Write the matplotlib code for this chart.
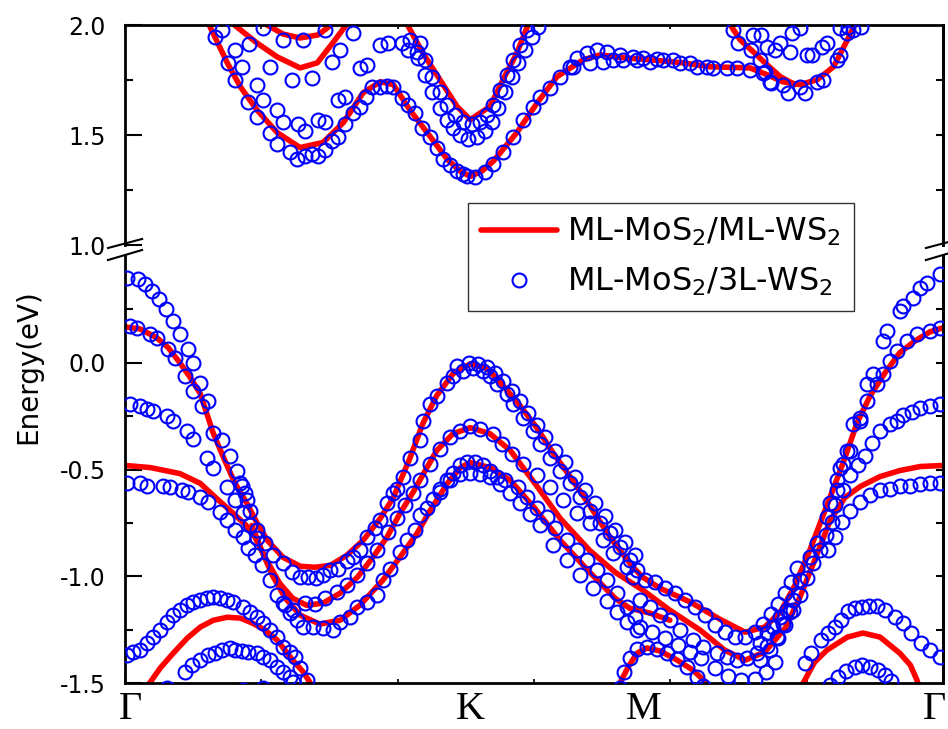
import matplotlib
matplotlib.use('Agg')
import matplotlib.pyplot as plt
from matplotlib.lines import Line2D
from matplotlib.transforms import blended_transform_factory
import numpy as np

plt.rcParams['font.family'] = 'DejaVu Sans'
plt.rcParams['axes.unicode_minus'] = False
plt.rcParams['mathtext.default'] = 'regular'

# k-path, fraction of total length: G - K - M - G
kpts = [0.0, 0.4226, 0.6340, 1.0]
kpt_labels = ['Γ', 'K', 'M', 'Γ']
labels = ['ML-MoS$_2$/ML-WS$_2$', 'ML-MoS$_2$/3L-WS$_2$']

# ---- ML-MoS2/ML-WS2 (lines), (k, E) ----
ml_vb1 = [(0.000, 0.168), (0.018, 0.159), (0.039, 0.117), (0.053, 0.070), (0.067, 0.000),
          (0.079, -0.065), (0.092, -0.145), (0.108, -0.332), (0.122, -0.458), (0.134, -0.561),
          (0.149, -0.659), (0.163, -0.762), (0.174, -0.832), (0.193, -0.911), (0.214, -0.953),
          (0.232, -0.958), (0.251, -0.949), (0.271, -0.902), (0.291, -0.832), (0.312, -0.729),
          (0.328, -0.631), (0.348, -0.449), (0.364, -0.285), (0.381, -0.154), (0.401, -0.051),
          (0.422, -0.005), (0.443, -0.028), (0.462, -0.107), (0.483, -0.201), (0.504, -0.308),
          (0.523, -0.421), (0.544, -0.533), (0.568, -0.668), (0.593, -0.818), (0.621, -0.958),
          (0.633, -1.005), (0.654, -1.056), (0.691, -1.121), (0.727, -1.201), (0.758, -1.262),
          (0.782, -1.238), (0.801, -1.168), (0.819, -1.042), (0.837, -0.879), (0.858, -0.668),
          (0.878, -0.467), (0.895, -0.280), (0.911, -0.154), (0.929, -0.047), (0.947, 0.047),
          (0.966, 0.103), (0.984, 0.145), (1.000, 0.164)]
ml_vb2 = [(0.000, -0.481), (0.031, -0.491), (0.067, -0.519), (0.092, -0.565), (0.112, -0.636),
          (0.131, -0.701), (0.147, -0.757), (0.159, -0.818), (0.171, -0.911), (0.189, -1.033),
          (0.205, -1.103), (0.222, -1.136), (0.242, -1.126), (0.263, -1.079), (0.284, -1.005),
          (0.303, -0.911), (0.320, -0.818), (0.336, -0.706), (0.352, -0.607), (0.367, -0.505),
          (0.381, -0.411), (0.401, -0.332), (0.422, -0.304), (0.446, -0.332), (0.471, -0.411),
          (0.501, -0.565), (0.532, -0.729), (0.568, -0.879), (0.599, -0.981), (0.633, -1.065),
          (0.666, -1.159), (0.703, -1.252), (0.733, -1.346), (0.758, -1.393), (0.782, -1.355),
          (0.807, -1.243), (0.825, -1.098), (0.844, -0.916), (0.862, -0.738), (0.880, -0.631),
          (0.899, -0.579), (0.923, -0.533), (0.947, -0.505), (0.972, -0.486), (1.000, -0.481)]
ml_vb3 = [(0.155, -0.762), (0.167, -0.879), (0.180, -0.995), (0.196, -1.103), (0.214, -1.182),
          (0.238, -1.224), (0.263, -1.206), (0.287, -1.136), (0.315, -1.019), (0.336, -0.911),
          (0.357, -0.799), (0.373, -0.692), (0.394, -0.565), (0.410, -0.491), (0.422, -0.467),
          (0.446, -0.491), (0.471, -0.551), (0.501, -0.682), (0.532, -0.832), (0.568, -0.981),
          (0.599, -1.103), (0.617, -1.150), (0.642, -1.173), (0.666, -1.206)]
ml_vb4 = [(0.024, -1.533), (0.043, -1.430), (0.059, -1.360), (0.076, -1.290), (0.092, -1.238),
          (0.108, -1.206), (0.125, -1.192), (0.141, -1.196), (0.156, -1.220), (0.171, -1.252),
          (0.186, -1.299), (0.205, -1.393), (0.218, -1.449), (0.232, -1.533)]
ml_vb5 = [(0.823, -1.533), (0.829, -1.500), (0.843, -1.402), (0.858, -1.346), (0.883, -1.285),
          (0.902, -1.266), (0.923, -1.285), (0.947, -1.360), (0.960, -1.416), (0.968, -1.486),
          (0.972, -1.533)]
ml_vb6 = [(0.599, -1.533), (0.605, -1.500), (0.615, -1.425), (0.626, -1.360), (0.638, -1.336),
          (0.654, -1.350), (0.675, -1.393), (0.694, -1.439), (0.711, -1.500), (0.718, -1.533)]

ml_cb1 = [(0.099, 2.030), (0.104, 1.991), (0.125, 1.828), (0.141, 1.719), (0.161, 1.615),
          (0.186, 1.511), (0.214, 1.443), (0.242, 1.466), (0.267, 1.557), (0.291, 1.692),
          (0.312, 1.742), (0.328, 1.729), (0.348, 1.615), (0.373, 1.493), (0.394, 1.389),
          (0.410, 1.335), (0.422, 1.312), (0.436, 1.335), (0.450, 1.380), (0.479, 1.511),
          (0.504, 1.647), (0.528, 1.765), (0.560, 1.842), (0.581, 1.864), (0.609, 1.851),
          (0.642, 1.842), (0.682, 1.828), (0.715, 1.810), (0.764, 1.805), (0.785, 1.774),
          (0.804, 1.742), (0.825, 1.729), (0.846, 1.751), (0.866, 1.810), (0.883, 1.932),
          (0.890, 1.986), (0.894, 2.023)]
ml_cb2 = [(0.736, 2.023), (0.752, 1.932), (0.768, 1.878), (0.785, 1.819), (0.801, 1.765),
          (0.819, 1.729)]
ml_cb3 = [(0.342, 2.023), (0.364, 1.873), (0.385, 1.751), (0.406, 1.629), (0.422, 1.570),
          (0.446, 1.629), (0.462, 1.751), (0.479, 1.873), (0.495, 2.023)]
ml_cb4 = [(0.126, 2.023), (0.161, 1.919), (0.186, 1.855), (0.214, 1.805), (0.235, 1.828),
          (0.254, 1.919), (0.275, 2.023)]
ml_cb5 = [(0.163, 2.023), (0.193, 1.959), (0.214, 1.941), (0.236, 1.955), (0.260, 2.023)]

# ---- ML-MoS2/3L-WS2 (circles), (k, E) ----
tl_v01 = [(0.002, 0.397), (0.016, 0.393), (0.024, 0.369), (0.033, 0.336), (0.042, 0.299),
          (0.050, 0.252), (0.059, 0.196), (0.067, 0.136), (0.077, 0.065), (0.083, 0.000),
          (0.092, -0.093), (0.101, -0.178)]
tl_v02 = [(0.996, 0.416), (0.980, 0.374), (0.972, 0.350), (0.963, 0.304), (0.951, 0.266),
          (0.947, 0.243), (0.932, 0.150), (0.927, 0.103), (0.914, -0.051), (0.907, -0.098),
          (0.899, -0.257), (0.890, -0.285), (0.883, -0.411), (0.874, -0.491), (0.870, -0.551),
          (0.862, -0.659)]
tl_v03 = [(0.006, 0.173), (0.015, 0.164), (0.031, 0.136), (0.039, 0.117), (0.053, 0.065),
          (0.061, 0.023), (0.073, -0.061), (0.083, -0.131), (0.094, -0.201), (0.108, -0.327),
          (0.119, -0.364), (0.128, -0.435), (0.137, -0.505), (0.143, -0.575), (0.149, -0.645)]
tl_v04 = [(0.996, 0.164), (0.984, 0.150), (0.968, 0.136), (0.956, 0.103), (0.944, 0.056),
          (0.935, 0.009), (0.927, -0.051), (0.919, -0.098), (0.907, -0.178), (0.899, -0.271),
          (0.886, -0.411), (0.878, -0.472), (0.870, -0.598), (0.858, -0.724), (0.846, -0.846),
          (0.837, -0.911), (0.825, -1.019), (0.817, -1.112), (0.809, -1.159), (0.801, -1.192),
          (0.792, -1.238), (0.785, -1.266), (0.776, -1.313)]
tl_v05 = [(0.006, -0.192), (0.018, -0.201), (0.027, -0.215), (0.034, -0.224), (0.051, -0.248),
          (0.059, -0.271), (0.076, -0.318), (0.083, -0.355), (0.100, -0.444), (0.108, -0.491),
          (0.125, -0.584), (0.134, -0.645), (0.144, -0.706), (0.153, -0.762), (0.161, -0.822)]
tl_v06 = [(0.996, -0.192), (0.984, -0.201), (0.972, -0.210), (0.962, -0.229), (0.951, -0.243),
          (0.944, -0.271), (0.935, -0.285), (0.923, -0.318), (0.913, -0.374), (0.905, -0.435),
          (0.896, -0.481), (0.886, -0.528), (0.878, -0.598), (0.868, -0.668)]
tl_v07 = [(0.002, -0.565), (0.018, -0.565), (0.027, -0.575), (0.046, -0.575), (0.055, -0.584),
          (0.070, -0.598), (0.077, -0.607), (0.092, -0.631), (0.101, -0.654), (0.116, -0.701),
          (0.125, -0.738), (0.134, -0.785), (0.144, -0.818), (0.150, -0.869), (0.159, -0.902)]
tl_v08 = [(0.996, -0.565), (0.984, -0.565), (0.972, -0.570), (0.960, -0.575), (0.947, -0.579),
          (0.935, -0.589), (0.923, -0.598), (0.911, -0.621), (0.899, -0.654), (0.886, -0.692),
          (0.877, -0.748), (0.868, -0.818), (0.859, -0.879)]
tl_v09 = [(0.141, -0.565), (0.147, -0.612), (0.153, -0.692), (0.161, -0.785), (0.171, -0.846),
          (0.181, -0.902), (0.193, -0.939), (0.204, -0.981), (0.214, -1.005), (0.224, -1.005),
          (0.233, -1.009), (0.242, -0.995), (0.251, -0.972), (0.260, -0.967), (0.271, -0.930),
          (0.279, -0.911), (0.287, -0.879), (0.296, -0.818), (0.306, -0.776), (0.312, -0.738),
          (0.320, -0.659), (0.328, -0.612), (0.333, -0.589), (0.340, -0.537), (0.348, -0.444),
          (0.361, -0.364), (0.364, -0.271), (0.373, -0.192), (0.381, -0.154), (0.394, -0.093),
          (0.401, -0.061), (0.413, -0.037), (0.425, -0.023), (0.438, -0.037), (0.446, -0.061),
          (0.455, -0.098), (0.467, -0.145), (0.474, -0.192), (0.487, -0.257), (0.499, -0.318),
          (0.507, -0.379), (0.520, -0.444), (0.532, -0.505), (0.544, -0.565), (0.556, -0.631),
          (0.568, -0.692), (0.581, -0.752), (0.593, -0.799), (0.605, -0.865), (0.617, -0.925),
          (0.626, -0.972)]
tl_v10 = [(0.406, -0.014), (0.420, 0.000), (0.432, -0.005), (0.443, -0.019), (0.452, -0.047),
          (0.462, -0.084), (0.473, -0.131), (0.483, -0.178), (0.493, -0.234), (0.504, -0.290),
          (0.513, -0.346), (0.526, -0.411), (0.538, -0.467), (0.550, -0.533), (0.562, -0.598),
          (0.575, -0.659), (0.587, -0.720), (0.599, -0.785), (0.611, -0.841), (0.623, -0.902)]
tl_v11 = [(0.776, -1.393), (0.789, -1.346), (0.798, -1.290), (0.807, -1.229), (0.817, -1.159),
          (0.825, -1.089), (0.834, -1.009), (0.841, -0.939), (0.850, -0.879), (0.857, -0.808),
          (0.864, -0.748)]
tl_v12 = [(0.167, -0.949), (0.177, -1.019), (0.186, -1.089), (0.193, -1.126), (0.205, -1.159),
          (0.220, -1.126), (0.232, -1.131), (0.245, -1.103), (0.259, -1.075), (0.271, -1.042),
          (0.284, -0.995), (0.296, -0.939), (0.308, -0.879), (0.322, -0.794), (0.333, -0.729),
          (0.342, -0.668), (0.352, -0.612), (0.361, -0.551), (0.373, -0.472), (0.385, -0.402),
          (0.397, -0.350), (0.410, -0.318), (0.422, -0.294), (0.434, -0.308), (0.450, -0.332),
          (0.461, -0.379), (0.473, -0.425), (0.487, -0.472), (0.504, -0.528), (0.520, -0.584),
          (0.535, -0.645), (0.553, -0.706), (0.568, -0.752), (0.584, -0.832), (0.597, -0.893),
          (0.614, -0.958), (0.621, -1.005)]
tl_v13 = [(0.196, -1.136), (0.202, -1.173), (0.210, -1.206), (0.218, -1.238), (0.230, -1.238),
          (0.242, -1.243), (0.254, -1.252), (0.263, -1.215), (0.275, -1.192), (0.284, -1.145),
          (0.296, -1.122), (0.308, -1.089), (0.315, -1.019), (0.324, -0.967), (0.336, -0.888),
          (0.345, -0.832), (0.355, -0.785), (0.361, -0.715), (0.369, -0.678), (0.377, -0.636),
          (0.385, -0.589), (0.394, -0.551), (0.401, -0.514), (0.410, -0.481), (0.418, -0.467),
          (0.428, -0.463), (0.438, -0.481), (0.446, -0.505), (0.455, -0.533), (0.465, -0.551),
          (0.480, -0.584), (0.491, -0.631), (0.504, -0.678), (0.516, -0.724), (0.526, -0.776),
          (0.540, -0.832), (0.553, -0.879), (0.565, -0.925), (0.577, -0.972), (0.589, -1.019),
          (0.601, -1.079), (0.614, -1.145), (0.623, -1.192)]
tl_v14 = [(0.385, -0.607), (0.397, -0.551), (0.410, -0.523), (0.422, -0.514), (0.434, -0.519),
          (0.446, -0.533), (0.458, -0.570), (0.471, -0.612), (0.483, -0.659), (0.495, -0.710),
          (0.507, -0.762), (0.523, -0.855), (0.540, -0.925), (0.556, -0.995), (0.572, -1.056),
          (0.589, -1.117), (0.601, -1.168), (0.614, -1.215), (0.626, -1.252)]
tl_v15 = [(0.636, -1.019), (0.648, -1.028), (0.660, -1.056), (0.672, -1.079), (0.685, -1.112),
          (0.697, -1.145), (0.709, -1.182), (0.721, -1.229), (0.734, -1.262), (0.746, -1.285),
          (0.758, -1.285), (0.770, -1.262), (0.780, -1.224), (0.790, -1.178), (0.798, -1.131),
          (0.807, -1.079), (0.814, -1.028), (0.822, -0.963)]
tl_v16 = [(0.630, -1.112), (0.642, -1.145), (0.654, -1.182), (0.666, -1.206), (0.678, -1.252),
          (0.694, -1.299), (0.707, -1.332), (0.724, -1.360), (0.736, -1.379), (0.748, -1.393),
          (0.760, -1.383), (0.773, -1.360), (0.785, -1.327), (0.797, -1.285), (0.804, -1.224),
          (0.813, -1.168)]
tl_v17 = [(0.630, -1.238), (0.644, -1.262), (0.660, -1.290), (0.676, -1.322), (0.691, -1.355),
          (0.704, -1.383), (0.721, -1.430), (0.737, -1.467), (0.753, -1.486), (0.770, -1.481),
          (0.784, -1.449), (0.795, -1.402)]
tl_v18 = [(0.605, -1.523), (0.610, -1.449), (0.617, -1.383), (0.626, -1.341), (0.638, -1.332),
          (0.650, -1.341), (0.663, -1.360), (0.675, -1.388), (0.687, -1.425), (0.699, -1.472),
          (0.707, -1.514)]
tl_v19 = [(0.002, -1.369), (0.010, -1.355), (0.018, -1.346), (0.027, -1.313), (0.034, -1.285),
          (0.043, -1.252), (0.051, -1.215), (0.059, -1.182), (0.067, -1.159), (0.076, -1.136),
          (0.083, -1.122), (0.092, -1.112), (0.100, -1.103), (0.108, -1.098), (0.116, -1.103),
          (0.125, -1.112), (0.132, -1.122), (0.144, -1.145), (0.153, -1.168), (0.161, -1.192),
          (0.169, -1.220), (0.177, -1.252), (0.186, -1.285), (0.193, -1.332), (0.202, -1.355),
          (0.208, -1.379), (0.214, -1.430), (0.222, -1.486)]
tl_v20 = [(0.073, -1.449), (0.082, -1.416), (0.092, -1.393), (0.101, -1.369), (0.110, -1.360),
          (0.119, -1.346), (0.128, -1.336), (0.134, -1.346), (0.143, -1.350), (0.150, -1.355),
          (0.161, -1.360), (0.169, -1.379), (0.177, -1.393), (0.186, -1.425), (0.193, -1.449),
          (0.202, -1.472), (0.205, -1.495)]
tl_v21 = [(0.051, -1.523), (0.144, -1.533), (0.169, -1.523)]
tl_v22 = [(0.831, -1.407), (0.839, -1.360), (0.851, -1.299), (0.859, -1.266), (0.868, -1.238),
          (0.875, -1.206), (0.884, -1.164), (0.892, -1.150), (0.901, -1.145), (0.910, -1.140),
          (0.919, -1.140), (0.929, -1.159), (0.941, -1.192), (0.951, -1.220), (0.961, -1.266),
          (0.973, -1.313), (0.984, -1.346), (0.996, -1.379)]
tl_v23 = [(0.862, -1.509), (0.872, -1.472), (0.881, -1.444), (0.892, -1.425), (0.901, -1.416),
          (0.911, -1.425), (0.921, -1.439), (0.929, -1.463), (0.936, -1.491)]

tl_c01 = [(0.110, 1.946), (0.126, 1.828), (0.134, 1.751), (0.150, 1.652), (0.161, 1.584),
          (0.177, 1.511), (0.186, 1.457), (0.202, 1.425), (0.210, 1.389), (0.220, 1.403),
          (0.229, 1.412), (0.236, 1.403), (0.245, 1.434), (0.253, 1.471), (0.260, 1.489),
          (0.269, 1.548), (0.279, 1.602), (0.287, 1.629), (0.295, 1.674), (0.302, 1.719),
          (0.312, 1.719), (0.320, 1.724), (0.328, 1.719), (0.339, 1.670), (0.346, 1.638),
          (0.355, 1.602), (0.363, 1.534), (0.373, 1.489), (0.381, 1.443), (0.389, 1.389),
          (0.397, 1.362), (0.406, 1.335), (0.413, 1.321), (0.418, 1.312), (0.428, 1.308),
          (0.440, 1.330), (0.450, 1.367), (0.462, 1.425), (0.474, 1.493), (0.487, 1.570),
          (0.499, 1.629), (0.507, 1.674), (0.520, 1.715), (0.532, 1.765), (0.544, 1.810),
          (0.553, 1.851), (0.565, 1.873), (0.577, 1.887), (0.589, 1.878), (0.605, 1.864),
          (0.621, 1.855), (0.633, 1.851), (0.650, 1.846), (0.670, 1.842), (0.691, 1.828),
          (0.711, 1.810), (0.719, 1.805), (0.736, 1.805), (0.748, 1.805), (0.764, 1.796),
          (0.780, 1.783), (0.789, 1.742), (0.804, 1.729), (0.811, 1.692), (0.825, 1.719),
          (0.831, 1.692), (0.846, 1.742), (0.853, 1.751), (0.870, 1.842), (0.874, 1.864),
          (0.883, 1.964), (0.890, 1.977)]
tl_c02 = [(0.548, 1.810), (0.568, 1.828), (0.584, 1.833), (0.597, 1.842), (0.609, 1.842),
          (0.626, 1.842), (0.642, 1.833), (0.658, 1.842), (0.678, 1.828), (0.699, 1.810)]
tl_c03 = [(0.134, 1.887), (0.143, 1.810), (0.161, 1.729), (0.169, 1.661), (0.186, 1.615),
          (0.193, 1.561), (0.211, 1.548), (0.220, 1.516), (0.236, 1.570), (0.245, 1.561),
          (0.260, 1.661), (0.269, 1.674), (0.287, 1.805), (0.296, 1.819), (0.312, 1.910),
          (0.322, 1.919), (0.339, 1.919), (0.346, 1.887), (0.357, 1.878)]
tl_c04 = [(0.119, 1.977), (0.169, 1.986), (0.193, 1.932), (0.218, 1.932), (0.245, 1.977),
          (0.279, 1.964)]
tl_c05 = [(0.152, 1.914), (0.177, 1.810), (0.204, 1.751), (0.229, 1.760), (0.253, 1.833),
          (0.263, 1.887)]
tl_c06 = [(0.348, 1.932), (0.358, 1.851), (0.367, 1.774), (0.375, 1.697), (0.385, 1.624),
          (0.394, 1.570), (0.401, 1.534), (0.410, 1.502), (0.419, 1.480), (0.430, 1.489),
          (0.440, 1.516), (0.449, 1.561), (0.456, 1.624), (0.465, 1.697), (0.473, 1.765),
          (0.480, 1.828), (0.489, 1.887), (0.498, 1.946), (0.505, 1.991)]
tl_c07 = [(0.361, 1.919), (0.367, 1.842), (0.375, 1.765), (0.385, 1.697), (0.394, 1.638),
          (0.403, 1.593), (0.413, 1.561), (0.424, 1.548), (0.434, 1.561), (0.443, 1.593),
          (0.450, 1.638), (0.458, 1.706), (0.467, 1.774), (0.474, 1.842), (0.483, 1.910),
          (0.491, 1.977)]
tl_c08 = [(0.743, 1.977), (0.749, 1.919), (0.765, 1.887), (0.776, 1.842), (0.782, 1.787),
          (0.790, 1.738)]
tl_c09 = [(0.768, 1.955), (0.785, 1.900), (0.795, 1.887), (0.813, 1.878), (0.834, 1.864),
          (0.840, 1.864), (0.852, 1.900), (0.858, 1.919), (0.874, 1.986)]
tl_c10 = [(0.778, 1.955), (0.801, 1.919), (0.815, 1.964), (0.825, 1.986), (0.884, 1.991),
          (0.900, 1.991)]

ml_bands = [ml_vb1, ml_vb2, ml_vb3, ml_vb4, ml_vb5, ml_vb6,
            ml_cb1, ml_cb2, ml_cb3, ml_cb4, ml_cb5]
tl_bands = [tl_v01, tl_v02, tl_v03, tl_v04, tl_v05, tl_v06, tl_v07, tl_v08, tl_v09, tl_v10,
            tl_v11, tl_v12, tl_v13, tl_v14, tl_v15, tl_v16, tl_v17, tl_v18, tl_v19, tl_v20,
            tl_v21, tl_v22, tl_v23,
            tl_c01, tl_c02, tl_c03, tl_c04, tl_c05, tl_c06, tl_c07, tl_c08, tl_c09, tl_c10]

line_kw = dict(color='red', lw=4, solid_capstyle='round', solid_joinstyle='round')
circ_kw = dict(ls='none', marker='o', mfc='none', mec='blue', mew=1.5, ms=10)

fig = plt.figure(figsize=(9.48, 7.29), dpi=100)
ax_top = fig.add_axes([0.1319, 0.6639, 0.8629, 0.3018])
ax_bot = fig.add_axes([0.1319, 0.0631, 0.8629, 0.5857])

for ax in (ax_top, ax_bot):
    for band in ml_bands:
        k, e = np.array(band).T
        ax.plot(k, e, zorder=2, **line_kw)
    for band in tl_bands:
        k, e = np.array(band).T
        ax.plot(k, e, zorder=3, **circ_kw)
    ax.set_xlim(0, 1)
    for s in ax.spines.values():
        s.set_linewidth(2)
    ax.set_xticks(np.linspace(0, 1, 7))
    ax.tick_params(axis='x', direction='in', length=3, width=1.2,
                   labelbottom=False, labeltop=False)
    ax.tick_params(axis='y', which='major', direction='in', length=12, width=1.5,
                   labelsize=17, pad=14)
    ax.tick_params(axis='y', which='minor', direction='in', length=6, width=1.5)
    ax.yaxis.set_major_formatter(lambda v, pos: '{:.1f}'.format(v))

ax_top.set_ylim(1.0, 2.0)
ax_top.set_yticks([1.0, 1.5, 2.0])
ax_top.set_yticks([1.25, 1.75], minor=True)
ax_top.spines['bottom'].set_visible(False)
ax_top.tick_params(axis='x', top=True, bottom=False)

ax_bot.set_ylim(-1.5, 0.5)
ax_bot.set_yticks([-1.5, -1.0, -0.5, 0.0])
ax_bot.set_yticks([-1.25, -0.75, -0.25, 0.25], minor=True)
ax_bot.spines['top'].set_visible(False)
ax_bot.tick_params(axis='x', top=False, bottom=True)

# short ticks on the right-hand side
for ax, tks in ((ax_top, [1.25, 1.5, 1.75]),
                (ax_bot, [-1.25, -1.0, -0.75, -0.5, -0.25, 0.0, 0.25])):
    sec = ax.secondary_yaxis('right')
    sec.set_yticks(tks)
    sec.tick_params(direction='in', length=5, width=1.5, labelright=False)
    sec.spines['right'].set_linewidth(2)

# high-symmetry point labels (end labels nudged inwards so they stay on the canvas)
trans = blended_transform_factory(ax_bot.transData, ax_bot.transAxes)
label_pos = [kpts[0] + 0.007, kpts[1], kpts[2], kpts[3] - 0.010]
for kx, lab in zip(label_pos, kpt_labels):
    ax_bot.text(kx, -0.063, lab, transform=trans, ha='center', va='center',
                fontsize=29, family='Liberation Serif', clip_on=False)

fig.text(0.030, 0.497, 'Energy(eV)', rotation=90, ha='center', va='center', fontsize=20)

# axis break marks
for xf in (0.1319, 0.9947):
    for y0, y1 in ((0.6598, 0.6722), (0.6433, 0.6571)):
        fig.add_artist(Line2D([xf - 0.018, xf + 0.018], [y0, y1], color='black', lw=1.5))

handles = [Line2D([], [], **line_kw), Line2D([], [], **circ_kw)]
leg = fig.legend(handles, labels, loc='upper left', bbox_to_anchor=(0.4937, 0.7215),
                 frameon=True, fancybox=False, edgecolor='0.2', framealpha=1,
                 fontsize=23, handlelength=2.4, handletextpad=0.3, borderpad=0.4,
                 labelspacing=0.55, borderaxespad=0)
leg.get_frame().set_linewidth(1)

fig.savefig('out.png', dpi=100)
